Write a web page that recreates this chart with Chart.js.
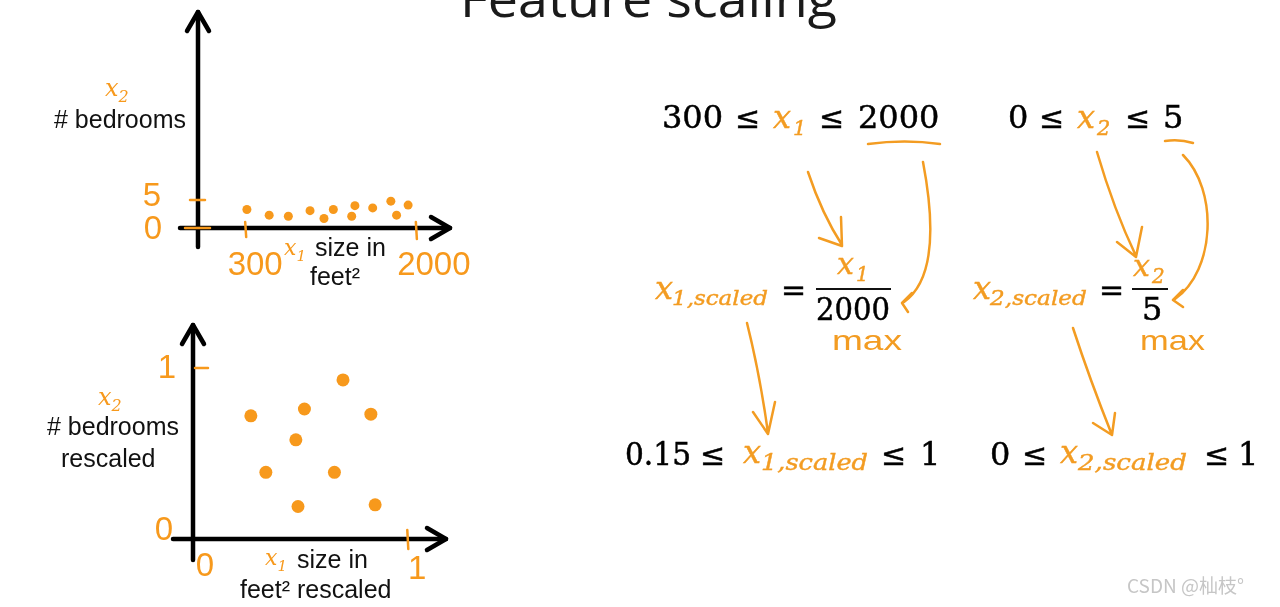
<!DOCTYPE html>
<html>
<head>
<meta charset="utf-8">
<script src="https://cdn.jsdelivr.net/npm/chart.js@4/dist/chart.umd.min.js"></script>
<style>
html, body { margin: 0; padding: 0; background: #fff; }
#page { position: relative; width: 1280px; height: 607px; overflow: hidden; background: #fff; }
#c1 { position: absolute; left: 0; top: 0; }
#c2 { position: absolute; left: 0; top: 300px; }
#notes { position: absolute; left: 0; top: 0; pointer-events: none; }
</style>
</head>
<body>
<div id="page">
<canvas id="c1" width="480" height="300"></canvas>
<canvas id="c2" width="480" height="307"></canvas>
<svg id="notes" width="1280" height="607" font-family="DejaVu Serif">
  <text x="460" y="17" font-family="Open Sans" font-size="52" fill="#1a1a1a" textLength="377" lengthAdjust="spacingAndGlyphs">Feature scaling</text>

  <g font-size="32" fill="#000" stroke="#000" stroke-width="0.5">
    <text x="662" y="128">300</text>
    <text x="735" y="128" font-size="30">≤</text>
    <text x="819" y="128" font-size="30">≤</text>
    <text x="858" y="128">2000</text>
    <text x="1008" y="128">0</text>
    <text x="1039" y="128" font-size="30">≤</text>
    <text x="1125" y="128" font-size="30">≤</text>
    <text x="1163" y="128">5</text>

    <text x="781" y="300" font-size="30">=</text>
    <text x="816" y="320" textLength="74" lengthAdjust="spacingAndGlyphs">2000</text>
    <text x="1099" y="300" font-size="30">=</text>
    <text x="1142" y="320">5</text>

    <text x="625" y="465" textLength="66" lengthAdjust="spacingAndGlyphs">0.15</text>
    <text x="700" y="465" font-size="30">≤</text>
    <text x="881" y="465" font-size="30">≤</text>
    <text x="920" y="465">1</text>
    <text x="990" y="465">0</text>
    <text x="1022" y="465" font-size="30">≤</text>
    <text x="1204" y="465" font-size="30">≤</text>
    <text x="1238" y="465">1</text>
  </g>
  <g stroke="#111" stroke-width="2">
    <line x1="816" y1="289" x2="891" y2="289"/>
    <line x1="1132" y1="289" x2="1168" y2="289"/>
  </g>

  <g fill="#f39c22" font-style="italic" stroke="#f39c22" stroke-width="0.4">
    <text x="773" y="128" font-size="32">x</text>
    <text x="793" y="135" font-size="21">1</text>
    <text x="1077" y="128" font-size="32">x</text>
    <text x="1097" y="135" font-size="21">2</text>

    <text x="655" y="299" font-size="32">x</text>
    <text x="672" y="305" font-size="21" textLength="96" lengthAdjust="spacingAndGlyphs">1,scaled</text>
    <text x="837" y="274" font-size="30">x</text>
    <text x="856" y="281" font-size="20">1</text>
    <text x="973" y="299" font-size="32">x</text>
    <text x="990" y="305" font-size="21" textLength="97" lengthAdjust="spacingAndGlyphs">2,scaled</text>
    <text x="1133" y="276" font-size="30">x</text>
    <text x="1152" y="283" font-size="20">2</text>

    <text x="743" y="463" font-size="32">x</text>
    <text x="761" y="470" font-size="22" textLength="107" lengthAdjust="spacingAndGlyphs">1,scaled</text>
    <text x="1060" y="463" font-size="32">x</text>
    <text x="1078" y="470" font-size="22" textLength="109" lengthAdjust="spacingAndGlyphs">2,scaled</text>
  </g>
  <g fill="#f39c22" font-family="Liberation Sans" font-size="28">
    <text x="832" y="350" textLength="70" lengthAdjust="spacingAndGlyphs">max</text>
    <text x="1140" y="350" textLength="65" lengthAdjust="spacingAndGlyphs">max</text>
  </g>

  <g fill="none" stroke="#f39c22" stroke-width="2.5" stroke-linecap="round" stroke-linejoin="round">
    <path d="M868,144 Q905,139 940,144"/>
    <path d="M1165,141 Q1180,139 1193,143"/>
    <path d="M808,172 Q822,214 842,245 M819,238 L842,246 L841,217"/>
    <path d="M923,162 C935,225 935,280 904,302 M912,293 L902,303 L908,312"/>
    <path d="M1097,152 Q1114,210 1136,256 M1117,242 L1136,257 L1142,227"/>
    <path d="M1183,155 C1218,190 1216,270 1175,299 M1183,290 L1173,300 L1183,307"/>
    <path d="M747,323 Q760,375 768,433 M753,412 L768,434 L775,402"/>
    <path d="M1073,328 Q1090,380 1112,435 M1093,423 L1112,435 L1115,413"/>
  </g>

  <text x="1127" y="593" font-family="Noto Sans CJK SC" font-size="19" fill="#c6c6c6">CSDN @杣枝°</text>
</svg>
</div>

<script>
const orange = '#f7991c';

// before scaling: size in feet^2 and number of bedrooms
const sizeFeet = [317, 539, 730, 946, 1085, 1178, 1361, 1393, 1570, 1751, 1808, 1923];
const bedrooms = [3.3, 2.3, 2.1, 3.1, 1.7, 3.3, 2.1, 4.0, 3.6, 4.8, 2.3, 4.1];
const sizeTicks = [300, 2000];
const bedroomTicks = [0, 5];

// after dividing by the max
const sizeScaled = [0.27, 0.34, 0.48, 0.49, 0.52, 0.66, 0.70, 0.83, 0.85];
const bedroomsScaled = [0.72, 0.39, 0.58, 0.19, 0.76, 0.39, 0.93, 0.73, 0.20];
const scaledXTicks = [0, 1];
const scaledYTicks = [0, 1];

function toPoints(xs, ys) {
    return xs.map((x, i) => ({ x: x, y: ys[i] }));
}

function line(ctx, x1, y1, x2, y2) {
    ctx.beginPath();
    ctx.moveTo(x1, y1);
    ctx.lineTo(x2, y2);
    ctx.stroke();
}

function subLabel(ctx, base, sub, x, y, size) {
    ctx.fillStyle = orange;
    ctx.textAlign = 'left';
    ctx.textBaseline = 'alphabetic';
    ctx.font = 'italic ' + size + 'px "DejaVu Serif"';
    ctx.fillText(base, x, y);
    const w = ctx.measureText(base).width;
    ctx.font = 'italic ' + Math.round(size * 0.68) + 'px "DejaVu Serif"';
    ctx.fillText(sub, x + w, y + size * 0.25);
}

// hand drawn style axes with arrows, orange ticks and labels
function sketchAxes(opts) {
    return {
        id: 'sketchAxes',
        afterDatasetsDraw(chart) {
            const ctx = chart.ctx;
            const a = chart.chartArea;
            const xs = chart.scales.x;
            const ys = chart.scales.y;
            ctx.save();
            ctx.lineCap = 'round';
            ctx.lineJoin = 'round';
            ctx.strokeStyle = '#000';
            ctx.lineWidth = 4.5;
            line(ctx, a.left, a.bottom + opts.yDown, a.left, a.top + 2);
            ctx.beginPath();
            ctx.moveTo(a.left - 11, a.top + 21);
            ctx.lineTo(a.left, a.top + 2);
            ctx.lineTo(a.left + 11, a.top + 21);
            ctx.stroke();
            line(ctx, a.left - opts.xBack, a.bottom, a.right - 2, a.bottom);
            ctx.beginPath();
            ctx.moveTo(a.right - 21, a.bottom - 11);
            ctx.lineTo(a.right - 2, a.bottom);
            ctx.lineTo(a.right - 21, a.bottom + 11);
            ctx.stroke();

            ctx.strokeStyle = orange;
            ctx.lineWidth = 2.5;
            ctx.fillStyle = orange;
            ctx.font = '33px "Liberation Sans"';
            ctx.textAlign = 'center';
            ctx.textBaseline = 'middle';
            opts.xTicks.forEach(t => {
                const px = xs.getPixelForValue(t.v);
                if (t.mark) line(ctx, px, a.bottom - t.mark[0], px + 1, a.bottom + t.mark[1]);
                ctx.fillText(String(t.v), px + t.dx, a.bottom + t.dy);
            });
            opts.yTicks.forEach(t => {
                const py = ys.getPixelForValue(t.v);
                if (t.mark) line(ctx, a.left - t.mark[0], py, a.left + t.mark[1], py);
                ctx.fillText(String(t.v), a.left + t.dx, py + t.dy);
            });

            ctx.fillStyle = '#111';
            ctx.textBaseline = 'alphabetic';
            ctx.font = '25px "Liberation Sans"';
            opts.texts.forEach(t => {
                ctx.textAlign = t.align || 'left';
                ctx.fillText(t.text, t.x, t.y);
            });
            opts.subs.forEach(s => subLabel(ctx, s.base, s.sub, s.x, s.y, s.size));
            ctx.restore();
        }
    };
}

function scatterChart(id, xs, ys, radius, scales, padding, axes) {
    const config = {
        type: 'scatter',
        data: {
            datasets: [{
                data: toPoints(xs, ys),
                backgroundColor: orange,
                borderWidth: 0,
                pointRadius: radius,
            }],
        },
        options: {
            responsive: false,
            animation: false,
            layout: { padding: padding },
            plugins: { legend: { display: false }, tooltip: { enabled: false } },
            scales: {
                x: { type: 'linear', display: false, min: scales[0], max: scales[1] },
                y: { type: 'linear', display: false, min: scales[2], max: scales[3] },
            },
        },
        plugins: [sketchAxes(axes)],
    };
    const ctx = document.getElementById(id).getContext('2d');
    return new Chart(ctx, config);
}

scatterChart('c1', sizeFeet, bedrooms, 4.5, [-170, 2360, 0, 39],
    { left: 198, top: 10, right: 28, bottom: 72 },
    {
        yDown: 19, xBack: 18,
        xTicks: [
            { v: sizeTicks[0], dx: 10, dy: 38, mark: [6, 9] },
            { v: sizeTicks[1], dx: 18, dy: 38, mark: [6, 11] },
        ],
        yTicks: [
            { v: bedroomTicks[0], dx: -45, dy: 2, mark: [13, 12] },
            { v: bedroomTicks[1], dx: -46, dy: -3, mark: [8, 7] },
        ],
        texts: [
            { text: '# bedrooms', x: 186, y: 128, align: 'right' },
            { text: 'size in', x: 315, y: 256 },
            { text: 'feet²', x: 310, y: 285 },
        ],
        subs: [
            { base: 'x', sub: '2', x: 105, y: 96, size: 24 },
            { base: 'x', sub: '1', x: 284, y: 255, size: 22 },
        ],
    });

scatterChart('c2', sizeScaled, bedroomsScaled, 6.5, [0, 1.19, 0, 1.263],
    { left: 193, top: 23, right: 32, bottom: 68 },
    {
        yDown: 21, xBack: 20,
        xTicks: [
            { v: scaledXTicks[0], dx: 12, dy: 28 },
            { v: scaledXTicks[1], dx: 10, dy: 31, mark: [9, 10] },
        ],
        yTicks: [
            { v: scaledYTicks[0], dx: -29, dy: -8 },
            { v: scaledYTicks[1], dx: -26, dy: 1, mark: [-2, 15] },
        ],
        texts: [
            { text: '# bedrooms', x: 179, y: 135, align: 'right' },
            { text: 'rescaled', x: 61, y: 167 },
            { text: 'size in', x: 297, y: 268 },
            { text: 'feet² rescaled', x: 240, y: 298 },
        ],
        subs: [
            { base: 'x', sub: '2', x: 98, y: 105, size: 24 },
            { base: 'x', sub: '1', x: 265, y: 265, size: 22 },
        ],
    });
</script>
</body>
</html>
